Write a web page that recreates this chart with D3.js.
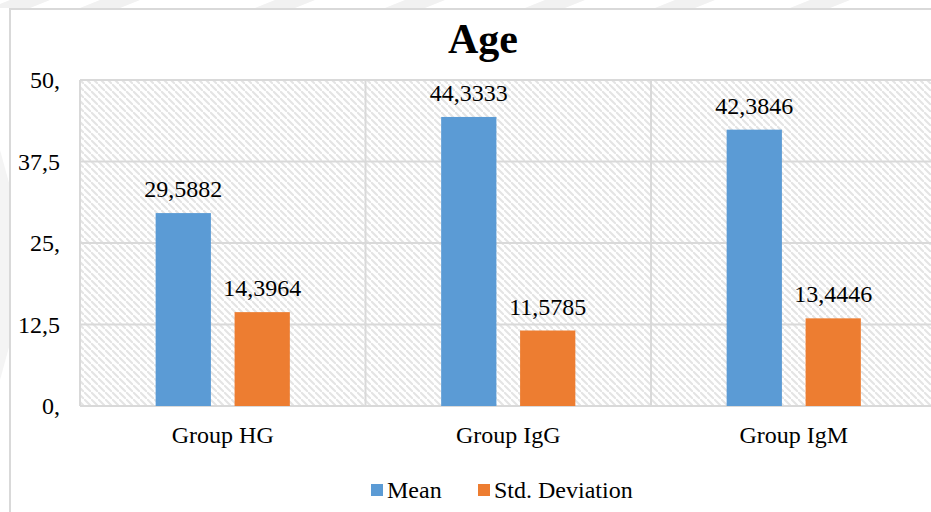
<!DOCTYPE html>
<html>
<head>
<meta charset="utf-8">
<script src="https://cdn.jsdelivr.net/npm/d3@7"></script>
<style>
  body { margin: 0; background: #fff; }
  svg { display: block; }
  text { font-family: "Liberation Serif", "Times New Roman", serif; fill: #000; }
</style>
</head>
<body>
<svg id="chart" width="931" height="512"></svg>
<script>
// data
const categories = ["Group HG", "Group IgG", "Group IgM"];
const series = ["Mean", "Std. Deviation"];
const meanValues = [29.5882, 44.3333, 42.3846];
const sdValues = [14.3964, 11.5785, 13.4446];
const tickValues = [0, 12.5, 25, 37.5, 50];
const tickLabels = ["0,", "12,5", "25,", "37,5", "50,"];
const colors = ["#5b9bd5", "#ed7d31"];

const svg = d3.select("#chart");
const fontSize = 24;

// faint watermark behind the chart
const wm = svg.append("g").attr("fill", "#f1f1f1");
[-10, 80, 255, 385, 525, 655, 790].forEach(x => {
  wm.append("path").attr("d", `M${x},8 L${x + 40},8 L${x + 60},0 L${x + 20},0 Z`);
});
wm.append("path").attr("d", "M0,150 L22,230 L22,300 L0,380 Z").attr("fill", "#f4f4f4");

// outer chart frame
svg.append("rect")
  .attr("x", 10).attr("y", 9)
  .attr("width", 940).attr("height", 520)
  .attr("fill", "#fff")
  .attr("stroke", "#d9d9d9").attr("stroke-width", 2);

const margin = { left: 80, top: 80, bottom: 406 };
const plotW = 285.5 * categories.length;

const x0 = d3.scaleBand().domain(categories).range([margin.left, margin.left + plotW]);
const bw = x0.bandwidth();
const x1 = d3.scaleBand().domain(series).range([bw * 0.265, bw * 0.735]).paddingInner(0.3);
const y = d3.scaleLinear().domain([0, 50]).range([margin.bottom, margin.top]);

// hatch pattern
const defs = svg.append("defs");
const pat = defs.append("pattern")
  .attr("id", "hatch").attr("patternUnits", "userSpaceOnUse")
  .attr("width", 7).attr("height", 7);
pat.append("rect").attr("width", 7).attr("height", 7).attr("fill", "#fff");
pat.append("path")
  .attr("d", "M-1,-1 L8,8 M-8,0 L1,9 M6,-2 L9,1")
  .attr("stroke", "#e4e4e4").attr("stroke-width", 2);

svg.append("rect")
  .attr("x", margin.left).attr("y", margin.top)
  .attr("width", plotW).attr("height", margin.bottom - margin.top)
  .attr("fill", "url(#hatch)");

// horizontal gridlines
svg.append("g").selectAll("line")
  .data(tickValues)
  .join("line")
  .attr("x1", margin.left).attr("x2", margin.left + plotW)
  .attr("y1", d => y(d)).attr("y2", d => y(d))
  .attr("stroke", "#d9d9d9").attr("stroke-width", 2);

// vertical category separators
svg.append("g").selectAll("line")
  .data(categories.concat(["end"]))
  .join("line")
  .attr("x1", (d, i) => margin.left + i * bw).attr("x2", (d, i) => margin.left + i * bw)
  .attr("y1", margin.top).attr("y2", margin.bottom)
  .attr("stroke", "#d9d9d9").attr("stroke-width", 2);

// y tick labels
svg.append("g").selectAll("text")
  .data(tickValues)
  .join("text")
  .attr("x", 60).attr("y", d => y(d) + 8)
  .attr("text-anchor", "end")
  .attr("font-size", fontSize)
  .text((d, i) => tickLabels[i]);

// bars
const rows = categories.map((c, i) => ({ cat: c, vals: [meanValues[i], sdValues[i]] }));
const groups = svg.append("g").selectAll("g")
  .data(rows)
  .join("g")
  .attr("transform", d => `translate(${x0(d.cat)},0)`);

groups.selectAll("rect")
  .data(d => d.vals.map((v, j) => ({ s: series[j], v, j })))
  .join("rect")
  .attr("x", d => x1(d.s))
  .attr("width", x1.bandwidth())
  .attr("y", d => y(d.v))
  .attr("height", d => y(0) - y(d.v))
  .attr("fill", d => colors[d.j]);

groups.selectAll("text")
  .data(d => d.vals.map((v, j) => ({ s: series[j], v, j })))
  .join("text")
  .attr("x", d => x1(d.s) + x1.bandwidth() / 2)
  .attr("y", d => y(d.v) - 16)
  .attr("text-anchor", "middle")
  .attr("font-size", fontSize)
  .text(d => d3.format(".4f")(d.v).replace(".", ","));

// category labels
svg.append("g").selectAll("text")
  .data(categories)
  .join("text")
  .attr("x", d => x0(d) + bw / 2)
  .attr("y", 443)
  .attr("text-anchor", "middle")
  .attr("font-size", fontSize)
  .text(d => d);

// title
svg.append("text")
  .attr("x", 483).attr("y", 53)
  .attr("text-anchor", "middle")
  .attr("font-size", 42).attr("font-weight", "bold")
  .text("Age");

// legend
const legend = svg.append("g");
const legX = [371, 478];
series.forEach((s, i) => {
  legend.append("rect")
    .attr("x", legX[i]).attr("y", 484)
    .attr("width", 12).attr("height", 12)
    .attr("fill", colors[i]);
  legend.append("text")
    .attr("x", legX[i] + 16).attr("y", 498)
    .attr("font-size", fontSize)
    .text(s);
});
</script>
</body>
</html>
